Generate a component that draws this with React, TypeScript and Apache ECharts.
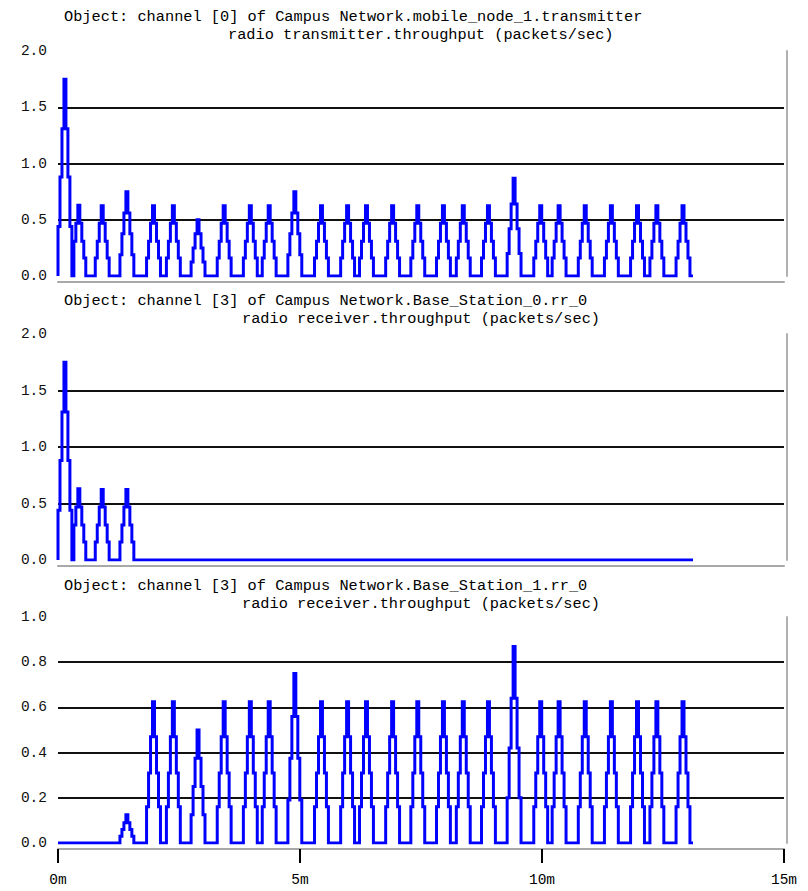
import React, { useEffect, useRef } from "react";
import * as echarts from "echarts";

// Sample width of the throughput statistic (minutes, ~2.5 s) and end of simulation
const BIN = 0.041;
const END_TIME = 13.12;

// Staircase level sequences (packets/sec per sample)
const LEAD = [0.44, 0.88, 1.31, 1.75, 1.31, 0.88, 0.44, 0, 0.31, 0.47, 0.63, 0.47, 0.31, 0.16];
const P125 = [0.03, 0.06, 0.09, 0.125, 0.09, 0.06, 0.03];
const P50 = [0.125, 0.25, 0.375, 0.5, 0.375, 0.25, 0.125];
const P625 = [0.16, 0.31, 0.47, 0.625, 0.47, 0.31, 0.16];
const P75 = [0.19, 0.375, 0.56, 0.75, 0.56, 0.375, 0.19];
const P875 = [0.2, 0.42, 0.64, 0.87, 0.64, 0.42, 0.2];

// Burst start times (minutes) and their shapes
const txPeaks: [number, number[]][] = [
  [0, LEAD], [0.77, P625], [1.28, P75], [1.83, P625], [2.24, P625], [2.75, P50],
  [3.29, P625], [3.83, P625], [4.22, P625], [4.75, P75], [5.3, P625], [5.84, P625],
  [6.23, P625], [6.77, P625], [7.29, P625], [7.82, P625], [8.23, P625], [8.75, P625],
  [9.28, P875], [9.83, P625], [10.21, P625], [10.75, P625], [11.29, P625], [11.83, P625],
  [12.23, P625], [12.77, P625],
];
const bs0Peaks: [number, number[]][] = [[0, LEAD], [0.77, P625], [1.28, P625]];
const bs1Peaks: [number, number[]][] = [
  [1.28, P125], [1.83, P625], [2.24, P625], [2.75, P50],
  [3.29, P625], [3.83, P625], [4.22, P625], [4.75, P75], [5.3, P625], [5.84, P625],
  [6.23, P625], [6.77, P625], [7.29, P625], [7.82, P625], [8.23, P625], [8.75, P625],
  [9.28, P875], [9.83, P625], [10.21, P625], [10.75, P625], [11.29, P625], [11.83, P625],
  [12.23, P625], [12.77, P625],
];

const titles1 = [
  "Object: channel [0] of Campus Network.mobile_node_1.transmitter",
  "Object: channel [3] of Campus Network.Base_Station_0.rr_0",
  "Object: channel [3] of Campus Network.Base_Station_1.rr_0",
];
const titles2 = [
  "radio transmitter.throughput (packets/sec)",
  "radio receiver.throughput (packets/sec)",
  "radio receiver.throughput (packets/sec)",
];
const yMax = [2, 2, 1];
const yInterval = [0.5, 0.5, 0.2];
const xTicks = { min: 0, max: 15, interval: 5 };

function toSteps(peaks: [number, number[]][]): [number, number][] {
  const pts: [number, number][] = [[0, 0]];
  for (const [start, levels] of peaks) {
    levels.forEach((v, k) => pts.push([+(start + k * BIN).toFixed(4), v]));
    pts.push([+(start + levels.length * BIN).toFixed(4), 0]);
  }
  pts.push([END_TIME, 0]);
  return pts;
}

const MONO = "'Liberation Mono', 'DejaVu Sans Mono', monospace";

export default function App() {
  const ref = useRef<HTMLDivElement>(null);
  useEffect(() => {
    if (!ref.current) return;
    const chart = echarts.init(ref.current, undefined, { renderer: "svg" });
    const grids = [
      { left: 58, right: 24, top: 51, height: 225 },
      { left: 58, right: 24, top: 334, height: 226 },
      { left: 58, right: 24, top: 617, height: 226 },
    ];
    const l1Top = [9, 293, 578];
    const l2Top = [27, 311, 596];
    const l2Left = [228, 242, 242];
    const title: any[] = [];
    for (let i = 0; i < 3; i++) {
      title.push({
        text: titles1[i], left: 64, top: l1Top[i], padding: 0,
        textStyle: { fontFamily: MONO, fontSize: 15.3, fontWeight: "normal", color: "#000" },
      });
      title.push({
        text: titles2[i], left: l2Left[i], top: l2Top[i], padding: 0,
        textStyle: { fontFamily: MONO, fontSize: 15.3, fontWeight: "normal", color: "#000" },
      });
    }
    const xAxis = [0, 1, 2].map((i) => ({
      gridIndex: i, type: "value", ...xTicks, offset: 6,
      axisLine: { show: true, onZero: false, lineStyle: { color: "#a8a8a8", width: 2 } },
      axisTick: { show: i === 2, length: 14, lineStyle: { color: "#000", width: 2 } },
      axisLabel: {
        show: i === 2, margin: 23, fontFamily: MONO, fontSize: 14.5, color: "#000",
        formatter: (v: number) => `${v}m`,
      },
      splitLine: { show: false },
    }));
    const yAxis: any[] = [0, 1, 2].map((i) => ({
      gridIndex: i, type: "value", min: 0, max: yMax[i], interval: yInterval[i],
      axisLine: { show: false }, axisTick: { show: false },
      axisLabel: {
        margin: 11, fontFamily: MONO, fontSize: 14.5, color: "#111",
        formatter: (v: number) => v.toFixed(1),
      },
      splitLine: { show: true, showMinLine: false, showMaxLine: false, lineStyle: { color: "#111", width: 2 } },
    }));
    [0, 1, 2].forEach((i) =>
      yAxis.push({
        gridIndex: i, type: "value", position: "right", min: 0, max: 1, offset: 3,
        axisLine: { show: true, lineStyle: { color: "#b0b0b0", width: 2 } },
        axisTick: { show: false }, axisLabel: { show: false }, splitLine: { show: false },
      })
    );
    const seriesData = [toSteps(txPeaks), toSteps(bs0Peaks), toSteps(bs1Peaks)];
    chart.setOption({
      animation: false,
      backgroundColor: "#fff",
      title,
      grid: grids,
      xAxis,
      yAxis,
      series: seriesData.map((d, i) => ({
        type: "line", step: "end", xAxisIndex: i, yAxisIndex: i, data: d,
        showSymbol: false, symbol: "none",
        lineStyle: { color: "#0000ff", width: 3, join: "miter" },
      })),
    });
    return () => chart.dispose();
  }, []);
  return (
    <div
      ref={ref}
      style={{ position: "fixed", left: 0, top: 0, width: 808, height: 891, background: "#fff" }}
    />
  );
}
